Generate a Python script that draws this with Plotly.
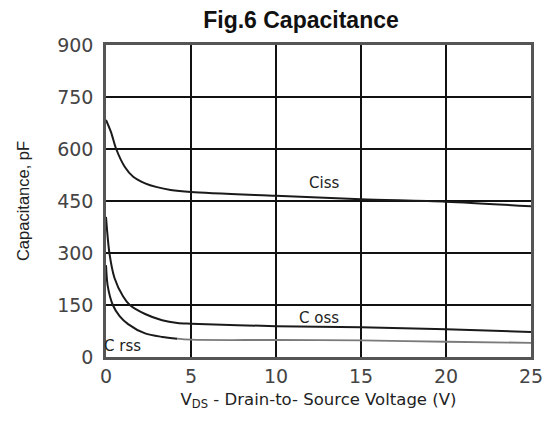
import plotly.graph_objects as go

# Data
ciss_x = [0, 0.3, 0.6, 1.1, 1.6, 2.3, 3.0, 3.8, 5, 10, 15, 20, 25]
ciss_y = [684, 648, 600, 549, 520, 501, 490, 482, 476, 465, 455, 448, 435]

coss_x = [0, 0.2, 0.5, 1.0, 1.4, 2.3, 3.3, 4.2, 5, 10, 15, 20, 25]
coss_y = [404, 300, 228, 175, 150, 124, 106, 98, 96, 89, 86, 80, 72]

crss_x = [0, 0.1, 0.4, 0.8, 1.3, 2.3, 3.3, 4.2]
crss_y = [265, 205, 150, 118, 95, 68, 58, 53]
crss_tail_x = [4.2, 5, 10, 15, 20, 25]
crss_tail_y = [53, 50, 49, 48, 44, 41]

x_ticks = [0, 5, 10, 15, 20, 25]
y_ticks = [0, 150, 300, 450, 600, 750, 900]

labels = [("Ciss", 12.85, 502), ("C oss", 12.5, 113), ("C rss", 0.95, 32)]

W, H = 546, 415  # page body adds an 8 px margin

fig = go.Figure()
line_style = dict(color="#1a1a1a", width=2, shape="spline", smoothing=0.8)
fig.add_trace(go.Scatter(x=ciss_x, y=ciss_y, mode="lines", line=line_style))
fig.add_trace(go.Scatter(x=coss_x, y=coss_y, mode="lines", line=line_style))
fig.add_trace(go.Scatter(x=crss_x, y=crss_y, mode="lines", line=line_style))
fig.add_trace(go.Scatter(x=crss_tail_x, y=crss_tail_y, mode="lines",
                         line=dict(color="#7a7a7a", width=1.8, shape="spline")))

for text, lx, ly in labels:
    fig.add_annotation(x=lx, y=ly, text=text, showarrow=False,
                       font=dict(family="DejaVu Sans", size=15, color="#222"))

fig.update_layout(
    width=W, height=H,
    margin=dict(l=98, r=23, t=37, b=66),
    paper_bgcolor="white", plot_bgcolor="white",
    showlegend=False,
    title=dict(text="<b>Fig.6 Capacitance</b>", x=293 / W, xanchor="center",
               y=1 - 12 / H, yanchor="middle",
               font=dict(family="Liberation Sans", size=23, color="#111")),
)
fig.update_xaxes(
    range=[0, 25], tickvals=x_ticks, ticktext=[str(v) for v in x_ticks],
    showgrid=True, gridcolor="#111", gridwidth=1.6,
    showline=True, linecolor="#555", linewidth=2.5, mirror=True,
    zeroline=False, ticks="",
    tickfont=dict(family="DejaVu Sans", size=19, color="#444"),
    title=dict(text="V<sub>DS</sub> - Drain-to- Source Voltage (V)",
               font=dict(family="DejaVu Sans", size=16.5, color="#222"), standoff=8),
)
fig.update_yaxes(
    range=[0, 900], tickvals=y_ticks, ticktext=[str(v) for v in y_ticks],
    showgrid=True, gridcolor="#111", gridwidth=1.6,
    showline=True, linecolor="#555", linewidth=2.5, mirror=True,
    zeroline=False, ticks="", ticklabelstandoff=6,
    tickfont=dict(family="DejaVu Sans", size=19, color="#444"),
    title=dict(text="Capacitance, pF",
               font=dict(family="Liberation Sans", size=16.5, color="#222"), standoff=24),
)

fig.write_html("out.html")
